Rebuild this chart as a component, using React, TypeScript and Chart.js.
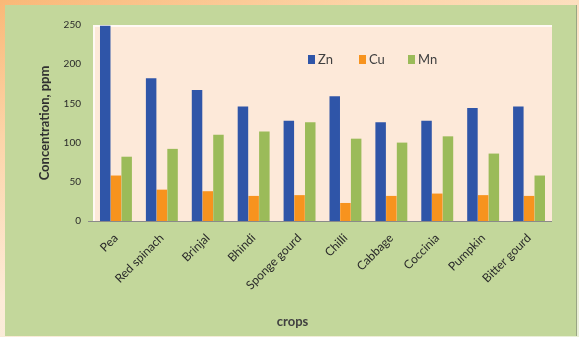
import React, { useEffect, useRef } from "react";
import { Chart, registerables } from "chart.js";

Chart.register(...registerables);

const crops = [
  "Pea",
  "Red spinach",
  "Brinjal",
  "Bhindi",
  "Sponge gourd",
  "Chilli",
  "Cabbage",
  "Coccinia",
  "Pumpkin",
  "Bitter gourd",
];

const zn = [249, 182, 167, 146, 128, 159, 126, 128, 144, 146];
const cu = [58, 40, 38, 32, 33, 23, 32, 35, 33, 32];
const mn = [82, 92, 110, 114, 126, 105, 100, 108, 86, 58];

const yTicks = [0, 50, 100, 150, 200, 250];

const seriesNames = ["Zn", "Cu", "Mn"];
const seriesColors = ["#2f55a8", "#f7931e", "#9bbb59"];

const FONT = "Lato, 'Open Sans', sans-serif";

// Peach plot-area fill, axis baseline and the in-plot legend
const plotDecor = {
  id: "plotDecor",
  beforeDatasetsDraw(chart: any) {
    const { ctx, chartArea } = chart;
    const { left, top, right, bottom } = chartArea;
    ctx.save();
    ctx.fillStyle = "#fde9d9";
    ctx.fillRect(left, top, right - left, bottom - top);
    ctx.strokeStyle = "rgba(255,255,255,0.7)";
    ctx.lineWidth = 2;
    ctx.beginPath();
    ctx.moveTo(left + 1, bottom);
    ctx.lineTo(left + 1, top + 1);
    ctx.lineTo(right, top + 1);
    ctx.stroke();
    ctx.restore();
  },
  afterDatasetsDraw(chart: any) {
    const { ctx, chartArea } = chart;
    const { left, right, bottom } = chartArea;
    ctx.save();
    ctx.strokeStyle = "#8a8a8a";
    ctx.lineWidth = 1;
    ctx.beginPath();
    ctx.moveTo(left - 5, bottom + 0.5);
    ctx.lineTo(right, bottom + 0.5);
    ctx.stroke();

    // legend
    const items = chart.data.datasets;
    const startX = left + 215;
    const y = chartArea.top + 35;
    const gaps = [0, 51, 100];
    ctx.font = `13px ${FONT}`;
    ctx.textBaseline = "middle";
    ctx.textAlign = "left";
    items.forEach((ds: any, i: number) => {
      const x = startX + gaps[i];
      ctx.fillStyle = ds.backgroundColor;
      ctx.fillRect(x, y - 5, 7, 9);
      ctx.fillStyle = "#404040";
      ctx.fillText(ds.label, x + 10, y);
    });
    ctx.restore();
  },
};

export default function App() {
  const canvasRef = useRef<HTMLCanvasElement | null>(null);

  useEffect(() => {
    if (!canvasRef.current) return;
    const values = [zn, cu, mn];
    const chart = new Chart(canvasRef.current, {
      type: "bar",
      data: {
        labels: crops,
        datasets: seriesNames.map((name, i) => ({
          label: name,
          data: values[i],
          backgroundColor: seriesColors[i],
          borderWidth: 0,
          categoryPercentage: 0.7,
          barPercentage: 0.98,
        })),
      },
      options: {
        animation: false,
        responsive: false,
        maintainAspectRatio: false,
        layout: { padding: { left: 28, right: 24, top: 20, bottom: 0 } },
        plugins: {
          legend: { display: false },
          tooltip: { enabled: false },
          title: {
            display: true,
            position: "bottom",
            text: "crops",
            color: "#404040",
            font: { family: FONT, size: 13, weight: "bold" },
            padding: { top: 0, bottom: 6 },
          },
        },
        scales: {
          x: {
            grid: { display: false, drawTicks: false },
            border: { display: false },
            ticks: {
              color: "#2a2a2a",
              font: { family: FONT, size: 12 },
              minRotation: 45,
              maxRotation: 45,
              padding: 10,
              autoSkip: false,
            },
            afterFit(scale: any) {
              scale.height = 93.4;
            },
          },
          y: {
            min: 0,
            max: 250,
            grid: { display: false, drawTicks: false },
            border: { display: false },
            afterBuildTicks(scale: any) {
              scale.ticks = yTicks.map((v) => ({ value: v }));
            },
            ticks: {
              color: "#2a2a2a",
              font: { family: FONT, size: 10 },
              padding: 12,
            },
            title: {
              display: true,
              text: "Concentration, ppm",
              color: "#303030",
              font: { family: FONT, size: 13, weight: "bold" },
              padding: 4,
            },
            afterFit(scale: any) {
              scale.width = 60;
            },
          },
        },
      },
      plugins: [plotDecor],
    });
    return () => chart.destroy();
  }, []);

  return (
    <div
      style={{
        position: "fixed",
        left: 0,
        top: 0,
        width: 579,
        height: 337,
        background:
          "linear-gradient(160deg, #f9b877 0%, #fcd4a8 25%, #fdebd8 55%, #e8efd6 100%)",
        overflow: "hidden",
      }}
    >
      <div
        style={{
          position: "absolute",
          left: 5,
          top: 5,
          width: 571,
          height: 331,
          background: "#c3d79b",
          borderRight: "1px solid #98a583",
        }}
      >
        <canvas ref={canvasRef} width={571} height={331} style={{ display: "block" }} />
      </div>
    </div>
  );
}
